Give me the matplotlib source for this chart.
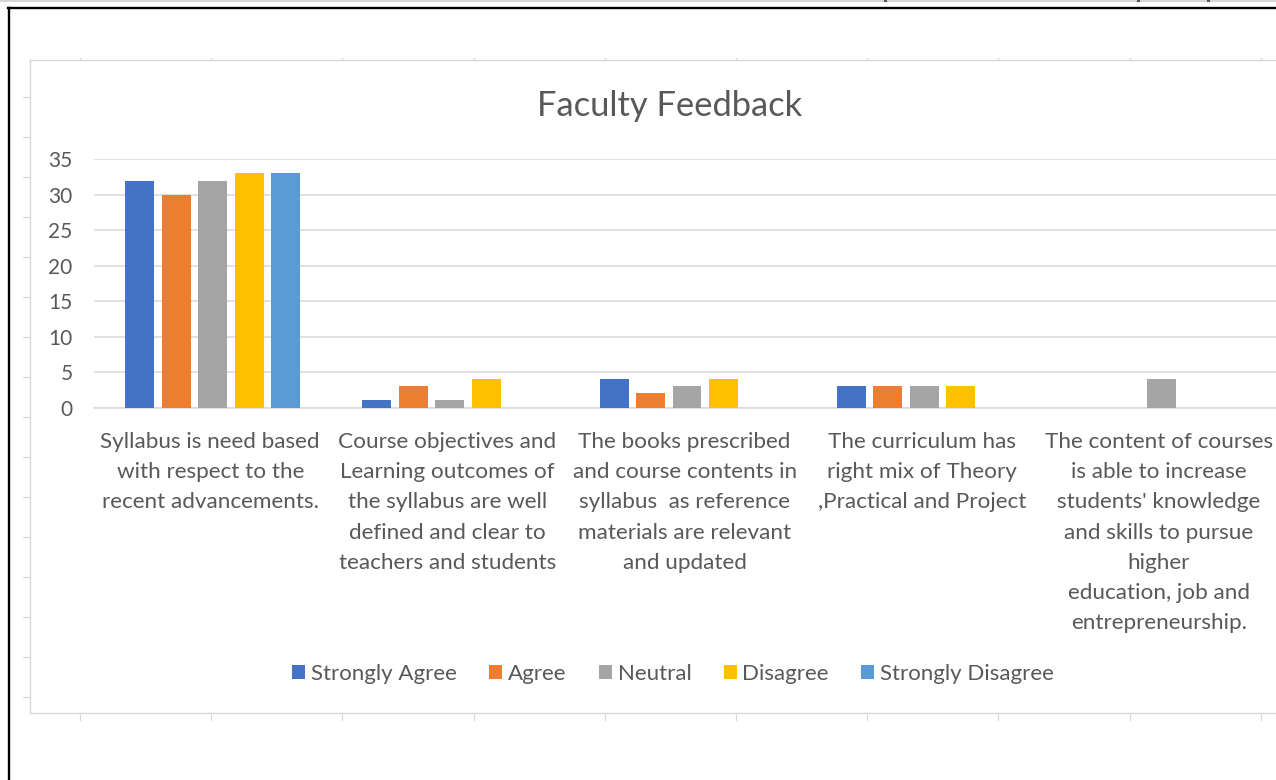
import matplotlib
matplotlib.use("Agg")
import matplotlib.pyplot as plt
from matplotlib.patches import Rectangle, Patch
from matplotlib.lines import Line2D
import matplotlib.transforms as mtransforms
import numpy as np

plt.rcParams['font.family'] = ['Lato', 'DejaVu Sans']

categories = [
    "Syllabus is need based\nwith respect to the\nrecent advancements.",
    "Course objectives and\nLearning outcomes of\nthe syllabus are well\ndefined and clear to\nteachers and students",
    "The books prescribed\nand course contents in\nsyllabus  as reference\nmaterials are relevant\nand updated",
    "The curriculum has\nright mix of Theory\n,Practical and Project",
    "The content of courses\nis able to increase\nstudents' knowledge\nand skills to pursue\nhigher\neducation, job and\nentrepreneurship.",
]
series_names = ["Strongly Agree", "Agree", "Neutral", "Disagree", "Strongly Disagree"]
strongly_agree = [32, 1, 4, 3, 0]
agree = [30, 3, 2, 3, 0]
neutral = [32, 1, 3, 3, 4]
disagree = [33, 4, 4, 3, 0]
strongly_disagree = [33, 0, 0, 0, 0]
yticks = [0, 5, 10, 15, 20, 25, 30, 35]

series_values = [strongly_agree, agree, neutral, disagree, strongly_disagree]
colors = ["#4472C4", "#ED7D31", "#A5A5A5", "#FFC000", "#5B9BD5"]
text_color = "#595959"
grid_color = "#D9D9D9"

W, H = 1276, 780
fig = plt.figure(figsize=(W / 100, H / 100), dpi=100)

def fx(px):
    return px / W

def fy(py):
    return 1 - py / H

# background decorations (screenshot frame)
fig.patches.append(Rectangle((0, fy(2)), 1, 2 / H, transform=fig.transFigure,
                             facecolor="#D6D6D6", edgecolor="none"))
for mx in [884, 1137, 1207]:
    fig.patches.append(Rectangle((fx(mx), fy(2)), 3 / W, 2 / H, transform=fig.transFigure,
                                 facecolor="#555555", edgecolor="none"))
fig.lines.append(Line2D([fx(8), 1], [fy(8), fy(8)], transform=fig.transFigure,
                        color="black", lw=1.7))
fig.lines.append(Line2D([fx(9), fx(9)], [fy(8), 0], transform=fig.transFigure,
                        color="black", lw=1.7))
# chart area border
fig.lines.append(Line2D([fx(30), 1], [fy(60), fy(60)], transform=fig.transFigure,
                        color=grid_color, lw=1.0))
fig.lines.append(Line2D([fx(30), 1], [fy(713), fy(713)], transform=fig.transFigure,
                        color=grid_color, lw=1.0))
fig.lines.append(Line2D([fx(30), fx(30)], [fy(60), fy(713)], transform=fig.transFigure,
                        color=grid_color, lw=1.0))
for k in range(16):
    yy = 97 + 40 * k
    fig.lines.append(Line2D([fx(23), fx(30)], [fy(yy), fy(yy)], transform=fig.transFigure,
                            color=grid_color, lw=0.9))
for k in range(10):
    xx = 80 + 131.2 * k
    fig.lines.append(Line2D([fx(xx), fx(xx)], [fy(713), fy(720)], transform=fig.transFigure,
                            color=grid_color, lw=0.9))
    fig.lines.append(Line2D([fx(xx), fx(xx)], [fy(58), fy(60)], transform=fig.transFigure,
                            color=grid_color, lw=0.9))

# plot area
left, right = 94, 1280
top, bottom = 159.3, 407.5
ax = fig.add_axes([fx(left), fy(bottom), (right - left) / W, (bottom - top) / H])
ax.set_facecolor("none")

x = np.arange(len(categories))
step = 36.5 / 237.3
bw = 29 / 237.3
for i, (vals, c, name) in enumerate(zip(series_values, colors, series_names)):
    ax.bar(x + (i - 2) * step, vals, width=bw, color=c, label=name, zorder=3)

ax.set_xlim(-0.5, len(categories) - 0.5)
ax.set_ylim(0, 35)
ax.set_yticks(yticks)
ax.set_yticklabels([str(t) for t in yticks], color=text_color, fontsize=15)
ax.tick_params(axis='y', length=0, pad=15.5)
ax.set_xticks([])
ax.grid(axis='y', color=grid_color, lw=1.1, zorder=0)
for s in ["top", "right", "left"]:
    ax.spines[s].set_visible(False)
ax.spines["bottom"].set_color(grid_color)
ax.spines["bottom"].set_linewidth(1.1)

trans = mtransforms.blended_transform_factory(ax.transData, fig.transFigure)
for i, lab in enumerate(categories):
    ax.text(i - 0.01, fy(432), lab, transform=trans, ha="center", va="top",
            multialignment="center", fontsize=16.2, color=text_color,
            linespacing=1.64, clip_on=False)

fig.text(fx(669.5), fy(106), "Faculty Feedback", ha="center", va="center",
         fontsize=24.8, color=text_color)

handles = [Patch(facecolor=c, edgecolor="none") for c in colors]
leg = fig.legend(handles, series_names, loc="center", ncol=5,
                 bbox_to_anchor=(fx(673), fy(674)), frameon=False,
                 fontsize=16, handlelength=0.6, handleheight=0.6,
                 handletextpad=0.25, columnspacing=1.45, labelcolor=text_color)

fig.savefig("out.png", dpi=100)
